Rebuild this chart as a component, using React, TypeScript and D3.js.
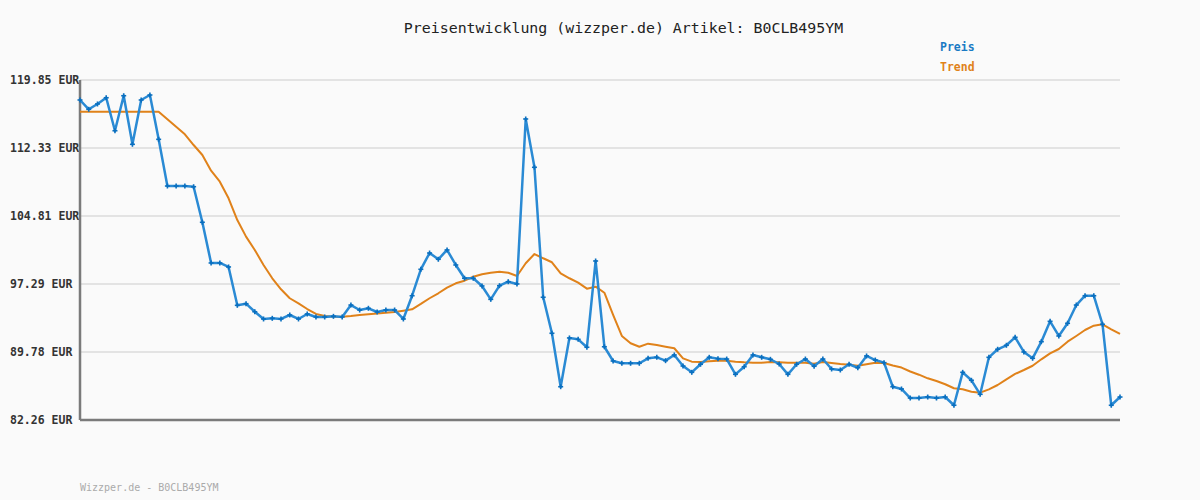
import React from "react";
import * as d3 from "d3";

const title = "Preisentwicklung (wizzper.de) Artikel: B0CLB495YM";
const footer = "Wizzper.de - B0CLB495YM";
const seriesNames = ["Preis", "Trend"];
const yTicks = [119.85, 112.33, 104.81, 97.29, 89.78, 82.26];
const yTickLabels = ["119.85 EUR", "112.33 EUR", "104.81 EUR", "97.29 EUR", "89.78 EUR", "82.26 EUR"];

const preis = [
  117.64, 116.61, 117.2, 117.89, 114.24, 118.11, 112.74, 117.64, 118.19, 113.29,
  108.13, 108.13, 108.13, 108.05, 104.12, 99.62, 99.62, 99.18, 94.94, 95.12,
  94.23, 93.43, 93.5, 93.43, 93.87, 93.43, 93.98, 93.65, 93.65, 93.72,
  93.65, 94.97, 94.42, 94.61, 94.2, 94.42, 94.42, 93.43, 96.0, 98.92,
  100.72, 100.03, 101.06, 99.4, 97.93, 97.93, 97.08, 95.6, 97.11, 97.55,
  97.3, 115.54, 110.2, 95.83, 91.85, 85.94, 91.33, 91.18, 90.3, 99.84,
  90.36, 88.78, 88.53, 88.53, 88.53, 89.08, 89.19, 88.82, 89.45, 88.23,
  87.53, 88.42, 89.19, 89.04, 89.0, 87.31, 88.15, 89.45, 89.19, 88.97,
  88.45, 87.31, 88.42, 89.0, 88.2, 89.0, 87.9, 87.79, 88.42, 88.04,
  89.34, 88.89, 88.6, 85.94, 85.69, 84.69, 84.69, 84.8, 84.69, 84.8,
  83.89, 87.53, 86.65, 85.1, 89.19, 90.08, 90.52, 91.4, 89.78, 89.08,
  90.92, 93.17, 91.55, 92.95, 94.97, 96.0, 96.0, 92.84, 83.89, 84.8,
];

const trend = [
  116.35, 116.35, 116.35, 116.35, 116.35, 116.35, 116.35, 116.35, 116.35, 116.35,
  115.51, 114.69, 113.85, 112.66, 111.56, 109.82, 108.61, 106.77, 104.37, 102.53,
  101.06, 99.4, 97.93, 96.71, 95.72, 95.16, 94.53, 93.98, 93.76, 93.68,
  93.68, 93.76, 93.87, 93.95, 94.03, 94.12, 94.2, 94.34, 94.5, 95.09,
  95.72, 96.27, 96.89, 97.37, 97.66, 98.1, 98.37, 98.54, 98.66, 98.54,
  98.18, 99.59, 100.61, 100.14, 99.7, 98.48, 97.93, 97.44, 96.78, 97.0,
  96.33, 93.87, 91.55, 90.74, 90.36, 90.7, 90.55, 90.36, 90.19, 89.08,
  88.71, 88.67, 88.75, 88.82, 88.82, 88.71, 88.64, 88.6, 88.6, 88.67,
  88.64, 88.6, 88.6, 88.6, 88.48, 88.67, 88.56, 88.45, 88.37, 88.26,
  88.42, 88.6, 88.56, 88.29, 88.06, 87.62, 87.27, 86.87, 86.57, 86.21,
  85.77, 85.65, 85.39, 85.28, 85.65, 86.13, 86.76, 87.35, 87.79, 88.26,
  88.97, 89.63, 90.11, 90.92, 91.55, 92.21, 92.69, 92.84, 92.29, 91.77,
];

const W = 1200;
const H = 500;
const M = { left: 80, right: 80, top: 80, bottom: 80 };

export default function App() {
  const x = d3.scaleLinear().domain([0, preis.length - 1]).range([M.left, W - M.right]);
  const y = d3.scaleLinear().domain([yTicks[yTicks.length - 1], yTicks[0]]).range([H - M.bottom, M.top]);
  const line = d3.line<number>().x((_, i) => x(i)).y((d) => y(d));
  const mono = "'DejaVu Sans Mono', 'Liberation Mono', monospace";
  const blue = "#2a8ad4";
  const blueDark = "#0a6fbf";
  const orange = "#e0821a";

  return (
    <svg
      width={W}
      height={H}
      style={{ position: "absolute", left: 0, top: 0, background: "#fafafa", display: "block" }}
    >
      <rect x={0} y={0} width={W} height={H} fill="#fafafa" />
      <text x={623.5} y={33} textAnchor="middle" fontFamily={mono} fontSize={14.9} fill="#222">
        {title}
      </text>
      <text x={940} y={51} fontFamily={mono} fontSize={11.5} fontWeight="bold" fill="#1a7ac4">
        {seriesNames[0]}
      </text>
      <text x={940} y={71} fontFamily={mono} fontSize={11.5} fontWeight="bold" fill={orange}>
        {seriesNames[1]}
      </text>
      {yTicks.map((t, i) => (
        <g key={t}>
          <line x1={M.left} x2={W - M.right} y1={y(t)} y2={y(t)} stroke="#e3e3e3" strokeWidth={2} />
          <text x={10} y={y(t) + 4} fontFamily={mono} fontSize={11.5} fontWeight="bold" fill="#333">
            {yTickLabels[i]}
          </text>
        </g>
      ))}
      <line x1={M.left} x2={M.left} y1={M.top} y2={H - M.bottom} stroke="#7a7a7a" strokeWidth={2.5} />
      <line x1={M.left} x2={W - M.right} y1={H - M.bottom} y2={H - M.bottom} stroke="#7a7a7a" strokeWidth={2.5} />
      <path d={line(trend) || ""} fill="none" stroke={orange} strokeWidth={2} strokeLinejoin="round" />
      <path d={line(preis) || ""} fill="none" stroke={blue} strokeWidth={2.5} strokeLinejoin="round" />
      {preis.map((v, i) => (
        <g key={i} stroke={blueDark} strokeWidth={1.6}>
          <line x1={x(i) - 2.5} x2={x(i) + 2.5} y1={y(v)} y2={y(v)} />
          <line x1={x(i)} x2={x(i)} y1={y(v) - 2.5} y2={y(v) + 2.5} />
        </g>
      ))}
      <text x={80} y={491} fontFamily={mono} fontSize={10} fill="#aaa">
        {footer}
      </text>
    </svg>
  );
}
